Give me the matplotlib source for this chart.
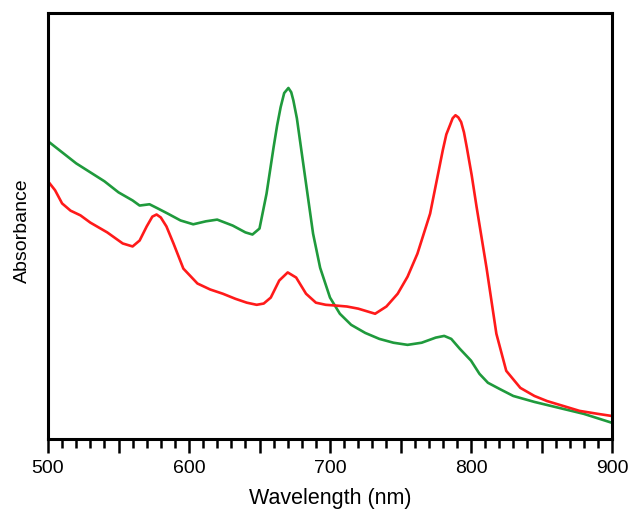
import matplotlib
matplotlib.use("Agg")
from matplotlib import pyplot as plt
from matplotlib.ticker import MultipleLocator, FuncFormatter

plt.rcParams['font.family'] = ['Liberation Sans', 'DejaVu Sans']

# green spectrum
wl_green = [500, 510, 520, 530, 540, 550, 560, 565, 572, 578, 585, 594, 603, 612,
            620, 631, 640, 645, 650, 655, 660, 662.5, 665, 667.5, 670.5, 672.5, 674,
            676.5, 679, 681.5, 684, 688, 693, 700, 707, 715, 725, 735, 745, 755, 765,
            775, 781, 786, 792, 800, 806, 812, 820, 830, 845, 860, 880, 900]
abs_green = [0.699, 0.673, 0.647, 0.626, 0.605, 0.579, 0.560, 0.548, 0.551, 0.541,
             0.529, 0.513, 0.504, 0.511, 0.515, 0.501, 0.485, 0.480, 0.494, 0.576,
             0.685, 0.736, 0.779, 0.812, 0.824, 0.814, 0.795, 0.753, 0.694, 0.635,
             0.576, 0.482, 0.402, 0.332, 0.294, 0.268, 0.249, 0.235, 0.226, 0.221,
             0.226, 0.238, 0.242, 0.235, 0.212, 0.184, 0.153, 0.132, 0.118, 0.101,
             0.087, 0.075, 0.059, 0.038]

# red spectrum
wl_red = [500, 505, 510, 516, 523, 530, 542, 553, 560, 565, 570, 574, 577, 580, 584,
          589, 596, 606, 615, 624, 633, 641, 648, 653, 658, 664, 670, 676, 683, 690,
          697, 705, 712, 720, 732, 740, 748, 755, 762, 771, 780, 782.5, 785, 787, 789,
          791, 793, 795, 797, 800.5, 804, 811, 818, 825, 835, 845, 854, 865, 877, 890,
          900]
abs_red = [0.605, 0.584, 0.553, 0.536, 0.525, 0.508, 0.485, 0.459, 0.452, 0.466,
           0.499, 0.522, 0.527, 0.520, 0.499, 0.459, 0.400, 0.365, 0.351, 0.341,
           0.329, 0.320, 0.315, 0.318, 0.332, 0.372, 0.391, 0.379, 0.341, 0.320,
           0.315, 0.313, 0.311, 0.306, 0.294, 0.311, 0.341, 0.381, 0.435, 0.529,
           0.678, 0.715, 0.736, 0.753, 0.760, 0.755, 0.744, 0.720, 0.685, 0.619,
           0.544, 0.402, 0.247, 0.160, 0.120, 0.101, 0.089, 0.078, 0.066, 0.059,
           0.054]

fig = plt.figure(figsize=(6.32, 5.11), dpi=100)
ax = fig.add_axes([48/632, 1-439/511, 564/632, 426/511])

ax.plot(wl_green, abs_green, color='#1f9a3c', lw=1.9, solid_joinstyle='round')
ax.plot(wl_red, abs_red, color='#ff1a1a', lw=1.9, solid_joinstyle='round')

ax.set_xlim(500, 900)
ax.set_ylim(0, 1)
ax.xaxis.set_major_locator(MultipleLocator(50))
ax.xaxis.set_minor_locator(MultipleLocator(10))
ax.xaxis.set_major_formatter(FuncFormatter(lambda v, p: f"{v:.0f}" if v % 100 == 0 else ""))
ax.tick_params(axis='x', which='major', length=10, width=1.8, direction='out',
               labelsize=14, pad=5)
ax.tick_params(axis='x', which='minor', length=6.5, width=1.8, direction='out')
ax.set_yticks([])
for s in ax.spines.values():
    s.set_linewidth(2.2)

ax.set_xlabel("Wavelength (nm)", fontsize=15.5)
ax.xaxis.set_label_coords(0.5, -0.114)
ax.set_ylabel("Absorbance", fontsize=14)
ax.yaxis.set_label_coords(-0.031, 0.49)

fig.savefig("out.png", dpi=100)
